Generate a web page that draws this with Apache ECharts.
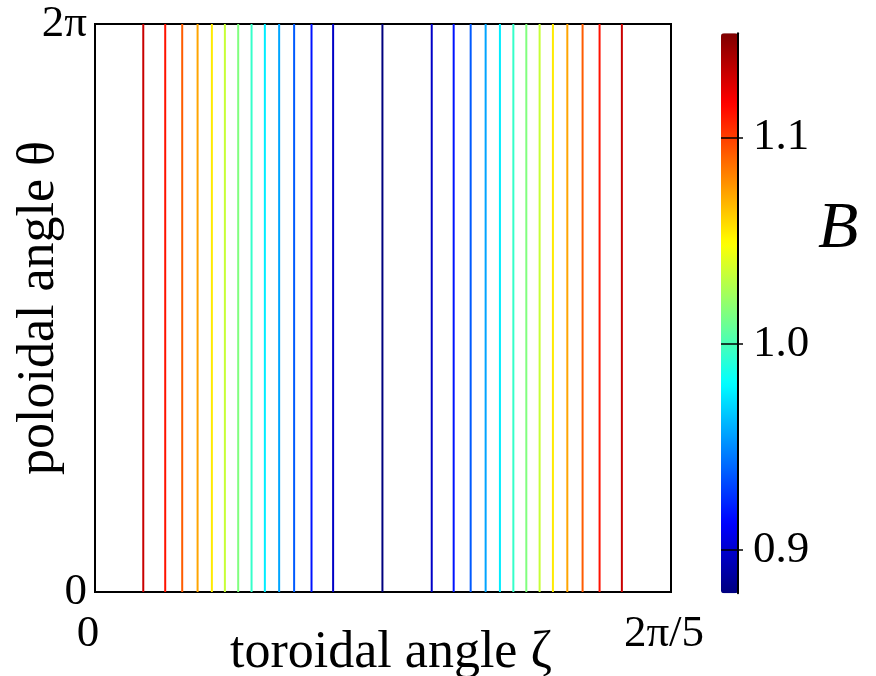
<!DOCTYPE html>
<html><head><meta charset="utf-8">
<script src="https://cdn.jsdelivr.net/npm/echarts@6/dist/echarts.min.js"></script>
<style>html,body{margin:0;padding:0;background:#fff}#c{width:876px;height:676px}</style>
</head><body><div id="c"></div>
<script>
// contour line positions, toroidal angle in units of 2π/5
const zetaPos = [0.0838, 0.1219, 0.1514, 0.1781, 0.2029, 0.2255, 0.2486, 0.2718, 0.2949, 0.3197, 0.3457, 0.3759, 0.4134,
                 0.4990,
                 0.5846, 0.6227, 0.6522, 0.6782, 0.7030, 0.7263, 0.7488, 0.7719, 0.7950, 0.8200, 0.8465, 0.8760, 0.9147];
// field strength B of each contour line
const bValues = [1.131, 1.112, 1.092, 1.073, 1.054, 1.034, 1.015, 0.995, 0.976, 0.957, 0.937, 0.918, 0.898,
                 0.879,
                 0.898, 0.918, 0.937, 0.957, 0.976, 0.995, 1.015, 1.034, 1.054, 1.073, 1.092, 1.112, 1.131];
const xTickLabels = ['0', '2π/5'];
const yTickLabels = ['0', '2π'];
const cbarTicks = [0.9, 1.0, 1.1];
const bMin = 0.879, bMax = 1.1506;
const jet = ['#00007F', '#0000FF', '#007FFF', '#00FFFF', '#7FFF7F', '#FFFF00', '#FF7F00', '#FF0000', '#7F0000'];

const serif = '"Liberation Serif", "Times New Roman", Times, "DejaVu Serif", serif';
const chart = echarts.init(document.getElementById('c'));
const data = zetaPos.map((z, i) => [z, 0, bValues[i]]);

chart.setOption({
  animation: false,
  backgroundColor: '#fff',
  grid: [
    {left: 95, top: 24, width: 576, height: 568, show: true, borderColor: '#000', borderWidth: 2,
     backgroundColor: 'transparent', containLabel: false, outerBoundsMode: 'none'},
    {left: 721, top: 33.3, width: 17, height: 560, containLabel: false, outerBoundsMode: 'none'}
  ],
  xAxis: [
    {gridIndex: 0, type: 'value', min: 0, max: 1, interval: 1,
     axisLine: {show: false}, axisTick: {show: false}, splitLine: {show: false},
     axisLabel: {margin: 20, fontFamily: serif, fontSize: 45, color: '#000', padding: [0, 14, 0, 0],
                 showMinLabel: true, showMaxLabel: true,
                 formatter: v => xTickLabels[Math.round(v)]},
     name: 'toroidal angle ζ', nameLocation: 'middle', nameGap: 35, nameMoveOverlap: false,
     nameTextStyle: {fontFamily: serif, fontSize: 52, color: '#000', padding: [0, 0, 0, 16]}},
    {gridIndex: 1, type: 'value', min: 0, max: 1, show: false}
  ],
  yAxis: [
    {gridIndex: 0, type: 'value', min: 0, max: 1, interval: 1,
     axisLine: {show: false}, axisTick: {show: false}, splitLine: {show: false},
     axisLabel: {margin: 8, fontFamily: serif, fontSize: 45, color: '#000',
                 showMinLabel: true, showMaxLabel: true,
                 formatter: v => yTickLabels[Math.round(v)]},
     name: 'poloidal angle θ', nameLocation: 'middle', nameGap: 30, nameRotate: 90, nameMoveOverlap: false,
     nameTextStyle: {fontFamily: serif, fontSize: 52, color: '#000'}},
    {gridIndex: 1, type: 'value', min: bMin, max: bMax, position: 'right', offset: 0, zlevel: 1, z: 10,
     axisLine: {show: true, onZero: false, lineStyle: {color: '#000', width: 2}},
     axisTick: {show: true, inside: true, length: 17, customValues: cbarTicks, lineStyle: {color: '#000', width: 1.5}},
     splitLine: {show: false},
     axisLabel: {margin: 15, customValues: cbarTicks, fontFamily: serif, fontSize: 45, color: '#000',
                 formatter: v => v.toFixed(1)}},
    {gridIndex: 1, type: 'value', min: bMin, max: bMax, position: 'left', offset: -17, zlevel: 1, z: 10,
     axisLine: {show: false, onZero: false},
     axisTick: {show: true, inside: true, length: 5, customValues: cbarTicks, lineStyle: {color: '#000', width: 1.5}},
     splitLine: {show: false}, axisLabel: {show: false}}
  ],
  visualMap: {
    type: 'continuous', min: bMin, max: bMax, dimension: 2, seriesIndex: 0, z: 1,
    orient: 'vertical', left: 721, top: 33.3, padding: 0, itemWidth: 17, itemHeight: 560,
    calculable: false, realtime: false, hoverLink: false, text: null, showLabel: false,
    inRange: {color: jet}
  },
  graphic: [
    {type: 'text', left: 818, top: 197, style: {text: 'B', fontFamily: serif, fontStyle: 'italic', fontSize: 66, fill: '#000'}}
  ],
  series: [{
    type: 'custom', xAxisIndex: 0, yAxisIndex: 0,
    encode: {x: 0, y: 1},
    data: data,
    renderItem: function (params, api) {
      const x = api.value(0);
      const p0 = api.coord([x, 0]);
      const p1 = api.coord([x, 1]);
      return {type: 'line', shape: {x1: p0[0], y1: p0[1], x2: p1[0], y2: p1[1]},
              style: {stroke: api.visual('color'), lineWidth: 2}};
    }
  }]
});
</script>
</body></html>
